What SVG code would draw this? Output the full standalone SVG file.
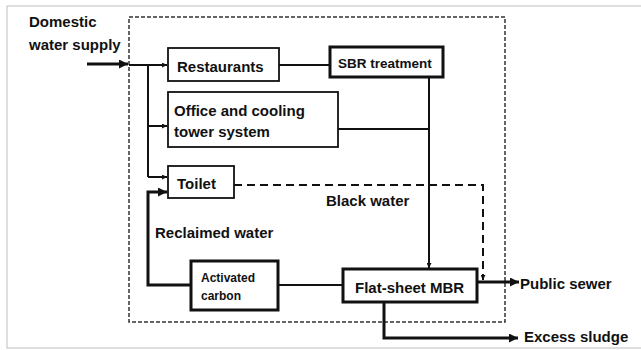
<svg xmlns="http://www.w3.org/2000/svg" width="641" height="350" viewBox="0 0 641 350">
<defs>
<style>
text{font-family:"Liberation Sans",Arial,sans-serif;font-weight:bold;font-size:15px;fill:#111}
.box{fill:#fff;stroke:#111;stroke-width:1.8}
.tbox{fill:#fff;stroke:#111;stroke-width:3}
.ln{fill:none;stroke:#111;stroke-width:2}
.thk{fill:none;stroke:#111;stroke-width:3}
.dash{fill:none;stroke:#111;stroke-width:2;stroke-dasharray:8 5}
</style>
<marker id="ah" viewBox="0 0 10 10" refX="10" refY="5" markerWidth="5" markerHeight="5" orient="auto" markerUnits="userSpaceOnUse">
<path d="M0,0 L10,5 L0,10 z" fill="#111"/>
</marker>
<marker id="ahb" viewBox="0 0 10 10" refX="10" refY="5" markerWidth="9" markerHeight="9" orient="auto" markerUnits="userSpaceOnUse">
<path d="M0,0 L10,5 L0,10 z" fill="#111"/>
</marker>
</defs>
<rect width="641" height="350" fill="#fff"/>
<rect x="7" y="6" width="640" height="342" fill="none" stroke="#c8c8c8" stroke-width="1.2"/>
<rect id="boundary" x="129" y="17" width="376" height="305" fill="none" stroke="#333" stroke-width="1.5" stroke-dasharray="4 2"/>

<g id="connectors">
<line class="thk" x1="87" y1="64" x2="128" y2="64" marker-end="url(#ahb)"/>
<line class="ln" x1="129" y1="65" x2="167" y2="65" marker-end="url(#ah)"/>
<line class="ln" x1="148" y1="65" x2="148" y2="177"/>
<line class="ln" x1="148" y1="126" x2="167" y2="126" marker-end="url(#ah)"/>
<line class="ln" x1="148" y1="177" x2="167" y2="177" marker-end="url(#ah)"/>
<line class="ln" x1="279" y1="65" x2="330" y2="65"/>
<line class="ln" x1="429" y1="77" x2="429" y2="268" marker-end="url(#ah)"/>
<line class="ln" x1="338" y1="129" x2="429" y2="129"/>
<path class="dash" d="M234,185 H483 V280" marker-end="url(#ah)"/>
<path class="thk" d="M191,285 H148 V192 H167" marker-end="url(#ahb)"/>
<line class="ln" x1="278" y1="285" x2="343" y2="285"/>
<line class="thk" x1="477" y1="282" x2="519" y2="282" marker-end="url(#ahb)"/>
<path class="thk" d="M384,302 V338 H518" marker-end="url(#ahb)"/>
</g>

<g id="domestic-water-supply">
<text x="29" y="27">Domestic</text>
<text x="29" y="50">water supply</text>
</g>
<g id="restaurants">
<rect class="box" x="168" y="48" width="111" height="33"/>
<text x="177" y="72">Restaurants</text>
</g>
<g id="sbr-treatment">
<rect class="tbox" x="330" y="47" width="113" height="30"/>
<text x="338" y="68" style="font-size:13.5px">SBR treatment</text>
</g>
<g id="office">
<rect class="box" x="168" y="92" width="170" height="55"/>
<text x="174" y="116">Office and cooling</text>
<text x="174" y="137">tower system</text>
</g>
<g id="toilet">
<rect class="box" x="168" y="166" width="66" height="32"/>
<text x="177" y="189">Toilet</text>
</g>
<g id="black-water-label">
<text x="326" y="206">Black water</text>
</g>
<g id="reclaimed-water-label">
<text x="155" y="238">Reclaimed water</text>
</g>
<g id="activated-carbon">
<rect class="tbox" x="191" y="261" width="87" height="49"/>
<text x="201" y="282" style="font-size:12px">Activated</text>
<text x="201" y="300" style="font-size:12px">carbon</text>
</g>
<g id="mbr">
<rect class="tbox" x="343" y="269" width="134" height="33"/>
<text x="355" y="293">Flat-sheet MBR</text>
</g>
<g id="public-sewer">
<text x="520" y="289">Public sewer</text>
</g>
<g id="excess-sludge">
<text x="524" y="342">Excess sludge</text>
</g>
</svg>
